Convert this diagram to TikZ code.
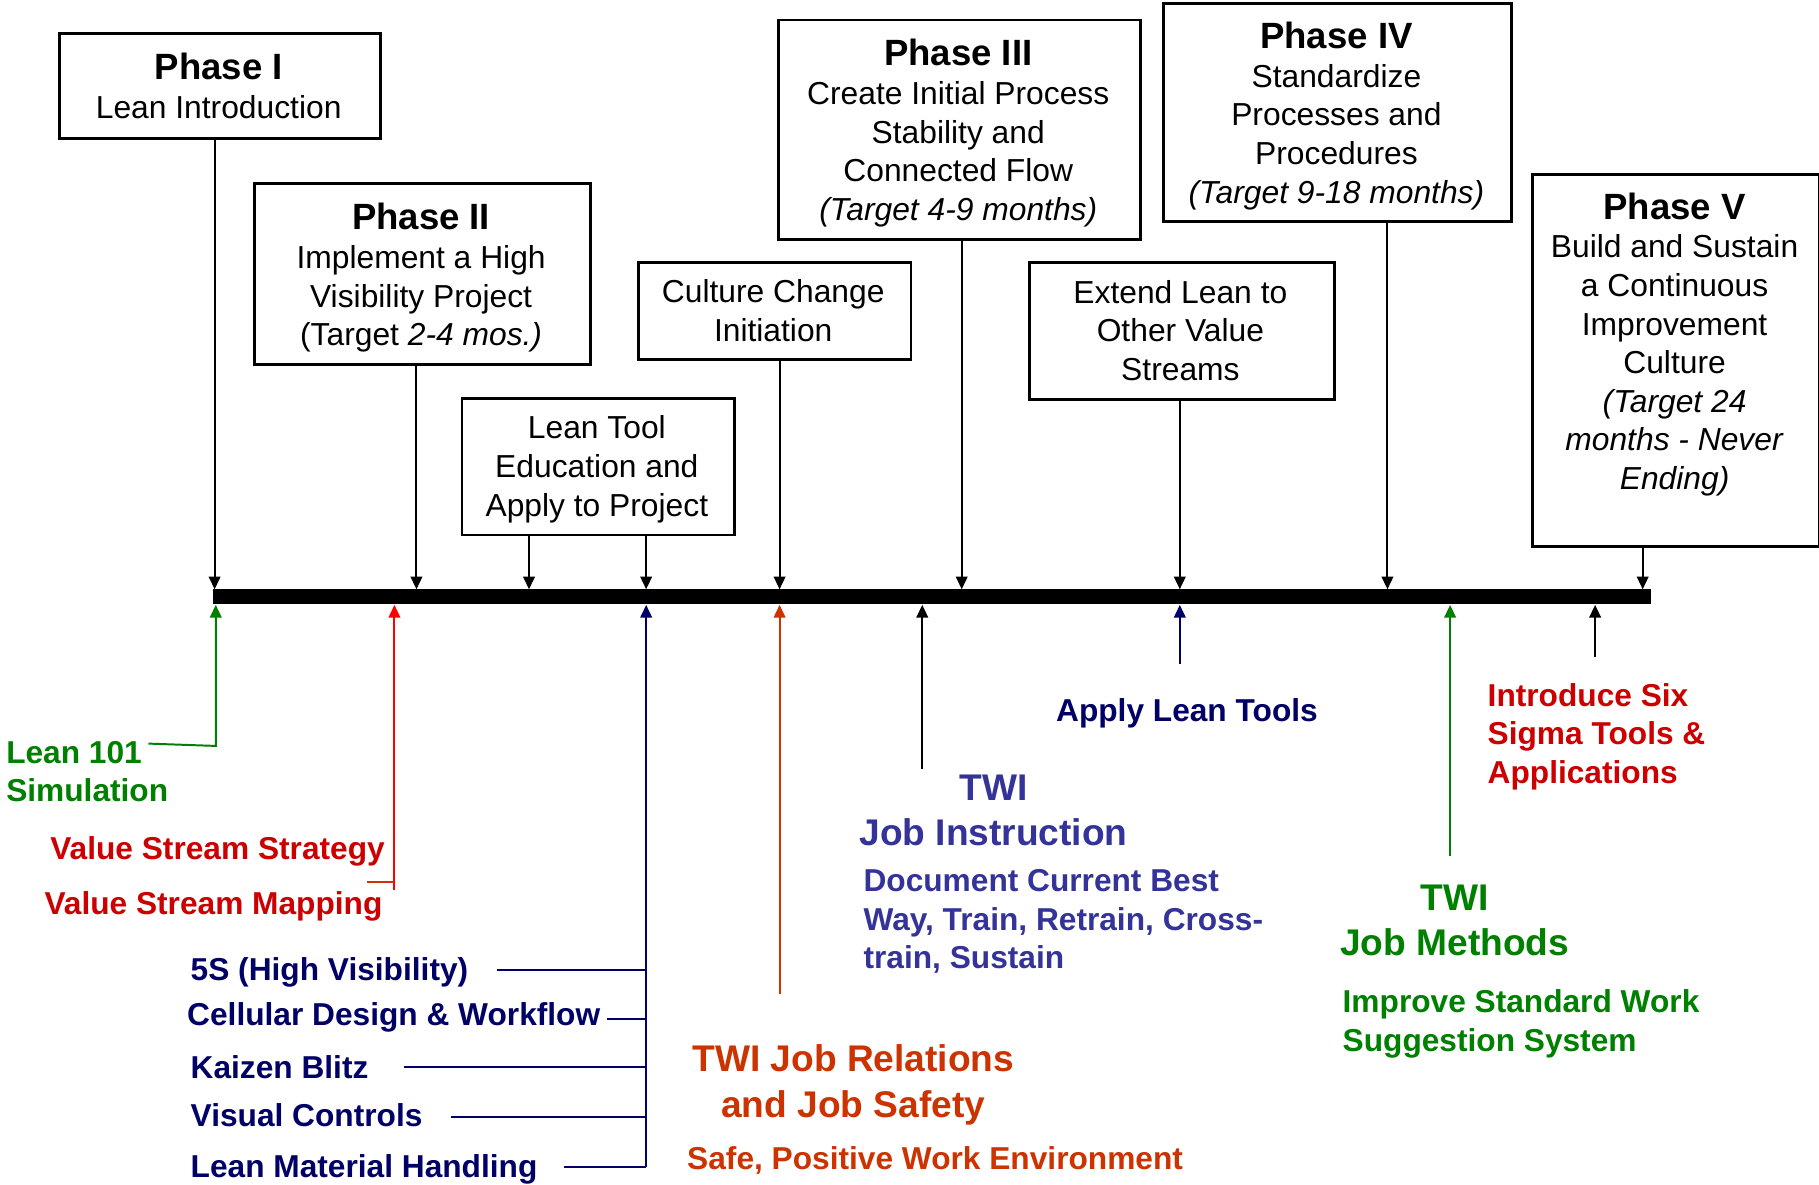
\documentclass[tikz,border=0pt]{standalone}
\usepackage{fontspec}
\setmainfont{Liberation Sans}
\usetikzlibrary{arrows.meta}
\definecolor{lgreen}{RGB}{0,128,0}
\definecolor{lred}{RGB}{204,0,0}
\definecolor{bright}{RGB}{255,0,0}
\definecolor{rust}{RGB}{204,51,0}
\definecolor{navy}{RGB}{0,0,102}
\definecolor{violetblue}{RGB}{51,51,153}
\newcommand\phasehead[1]{{\bfseries\fontsize{15.75}{16.65}\selectfont #1}}
\begin{document}
\begin{tikzpicture}[x=0.5pt,y=-0.5pt,
  frame/.style={draw=black, line width=1.2pt, inner sep=0pt, anchor=north west},
  boxtext/.style={align=center, inner sep=0pt, anchor=base, font=\fontsize{13.7}{16.65}\selectfont},
  arr/.style={line width=0.85pt, -{Triangle[length=5.5pt,width=5pt]}},
  plain/.style={line width=0.85pt},
  small/.style={inner sep=0pt, anchor=base west, align=left, font=\bfseries\fontsize{13.65}{16.6}\selectfont},
  large/.style={inner sep=0pt, align=center, anchor=base, font=\bfseries\fontsize{16}{19.5}\selectfont},
]
\useasboundingbox (0,0) rectangle (1568,1021);

% ---- phase and activity boxes
\node[frame, minimum width=138.5pt, minimum height=45pt] (p1) at (50,28) {};
\node[frame, minimum width=145pt, minimum height=78pt] (p2) at (218,157) {};
\node[frame, minimum width=117.5pt, minimum height=59pt] (lt) at (397,342) {};
\node[frame, minimum width=117.5pt, minimum height=42pt] (cc) at (549,225) {};
\node[frame, minimum width=156pt, minimum height=94.5pt] (p3) at (670,16) {};
\node[frame, minimum width=131.5pt, minimum height=59pt] (ex) at (886,225) {};
\node[frame, minimum width=150pt, minimum height=94pt] (p4) at (1002,2) {};
\node[frame, minimum width=123.5pt, minimum height=160.5pt] (p5) at (1320,149) {};

% box texts, placed by the baseline of their last line
\node[boxtext] (p1t) at (188.5,102) {\phasehead{Phase I}\\Lean Introduction};
\node[boxtext] (p2t) at (363,298) {\phasehead{Phase II}\\Implement a High\\Visibility Project\\(Target \textit{2-4 mos.)}};
\node[boxtext] (ltt) at (514.5,445) {Lean Tool\\Education and\\Apply to Project};
\node[boxtext] (cct) at (666.5,294) {Culture Change\\Initiation};
\node[boxtext] (p3t) at (826,190) {\phasehead{Phase III}\\Create Initial Process\\Stability and\\Connected Flow\\\textit{(Target 4-9 months)}};
\node[boxtext] (ext) at (1017.5,328) {Extend Lean to\\Other Value\\Streams};
\node[boxtext] (p4t) at (1152,175) {\phasehead{Phase IV}\\Standardize\\Processes and\\Procedures\\\textit{(Target 9-18 months)}};
\node[boxtext] (p5t) at (1443.5,422) {\phasehead{Phase V}\\Build and Sustain\\a Continuous\\Improvement\\Culture\\\textit{(Target 24}\\\textit{months - Never}\\\textit{Ending)}};

% ---- timeline bar
\node[fill=black, inner sep=0pt, minimum width=620pt, minimum height=6.5pt, anchor=west] (bar) at (183,514.5) {};

% ---- arrows from the boxes down to the bar
\coordinate (d1) at (185,508);
\coordinate (d2) at (359,508);
\coordinate (d3a) at (456,508);
\coordinate (d3b) at (557,508);
\coordinate (d4) at (672,508);
\coordinate (d5) at (829,508);
\coordinate (d6) at (1017,508);
\coordinate (d7) at (1196,508);
\coordinate (d8) at (1416,508);
\draw[arr] (p1.south -| d1) -- (d1);
\draw[arr] (p2.south -| d2) -- (d2);
\draw[arr] (lt.south -| d3a) -- (d3a);
\draw[arr] (lt.south -| d3b) -- (d3b);
\draw[arr] (cc.south -| d4) -- (d4);
\draw[arr] (p3.south -| d5) -- (d5);
\draw[arr] (ex.south -| d6) -- (d6);
\draw[arr] (p4.south -| d7) -- (d7);
\draw[arr] (p5.south -| d8) -- (d8);

% ---- activities below the bar (multi-line ones placed by their last baseline)
\node[small, lgreen] (l101) at (5,691) {Lean 101\\Simulation};
\node[small, lred] (vss) at (43,741) {Value Stream Strategy};
\node[small, lred] (vsm) at (38,788) {Value Stream Mapping};
\node[small, navy] (t5s) at (164,845) {5S (High Visibility)};
\node[small, navy] (cdw) at (161,884) {Cellular Design \& Workflow};
\node[small, navy] (kb) at (164,930) {Kaizen Blitz};
\node[small, navy] (vc) at (164,971) {Visual Controls};
\node[small, navy] (lmh) at (164,1015) {Lean Material Handling};
\node[large, rust] (jr) at (735.5,963) {TWI Job Relations\\and Job Safety};
\node[small, rust] (spw) at (592,1008) {Safe, Positive Work Environment};
\node[small, navy] (alt) at (910,622) {Apply Lean Tools};
\node[large, violetblue] (ji) at (856.5,729) {TWI\\Job Instruction};
\node[small, violetblue] (jid) at (744,835) {Document Current Best\\Way, Train, Retrain, Cross-\\train, Sustain};
\node[small, lred] (six) at (1282,675) {Introduce Six\\Sigma Tools \&\\Applications};
\node[large, lgreen] (jm) at (1254,824) {TWI\\Job Methods};
\node[small, lgreen] (jmd) at (1157,906) {Improve Standard Work\\Suggestion System};

% ---- arrows from the activities up to the bar
\coordinate (g1a) at (128,641);
\coordinate (g1b) at (186,643);
\draw[arr, lgreen] (g1a) -- (g1b) -- (g1b |- bar.south);

\coordinate (r1) at (340,767);
\coordinate (r1t) at (316,760);
\draw[arr, bright] (r1) -- (r1 |- bar.south);
\draw[plain, rust] (r1t) -- (r1t -| r1);

\coordinate (nv) at (557,1006);
\draw[arr, navy] (nv) -- (nv |- bar.south);
\coordinate (b1) at (428,836);
\coordinate (b2) at (523,878);
\coordinate (b3) at (348,920);
\coordinate (b4) at (389,963);
\coordinate (b5) at (486,1006);
\draw[plain, navy] (b1) -- (b1 -| nv);
\draw[plain, navy] (b2) -- (b2 -| nv);
\draw[plain, navy] (b3) -- (b3 -| nv);
\draw[plain, navy] (b4) -- (b4 -| nv);
\draw[plain, navy] (b5) -- (b5 -| nv);

\coordinate (oj) at (672,857);
\draw[arr, rust] (oj) -- (oj |- bar.south);
\coordinate (bj) at (795,663);
\draw[arr] (bj) -- (bj |- bar.south);
\coordinate (al) at (1017,572);
\draw[arr, navy] (al) -- (al |- bar.south);
\coordinate (gm) at (1250,738);
\draw[arr, lgreen] (gm) -- (gm |- bar.south);
\coordinate (ss) at (1375,566);
\draw[arr] (ss) -- (ss |- bar.south);
\end{tikzpicture}
\end{document}
